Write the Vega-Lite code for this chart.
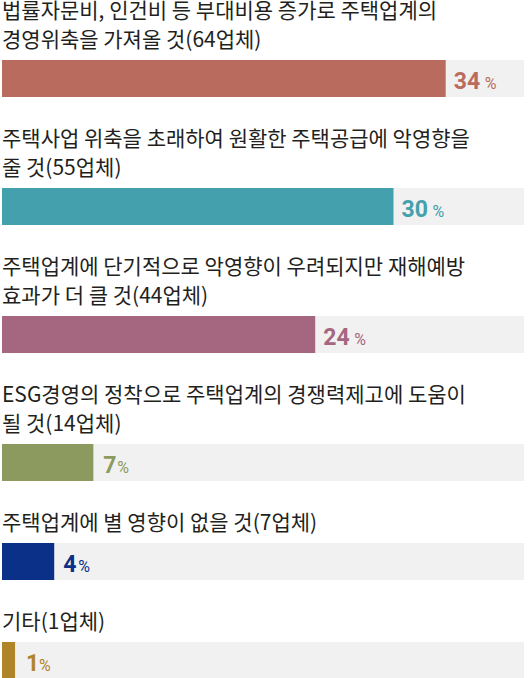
{
  "$schema": "https://vega.github.io/schema/vega-lite/v6.json",
  "padding": {"left": 2, "top": 1, "right": 0, "bottom": 0},
  "data": {
    "values": [
      {"rank": 1, "label": "법률자문비, 인건비 등 부대비용 증가로 주택업계의 경영위축을 가져올 것", "firms": 64, "pct": 34},
      {"rank": 2, "label": "주택사업 위축을 초래하여 원활한 주택공급에 악영향을 줄 것", "firms": 55, "pct": 30},
      {"rank": 3, "label": "주택업계에 단기적으로 악영향이 우려되지만 재해예방 효과가 더 클 것", "firms": 44, "pct": 24},
      {"rank": 4, "label": "ESG경영의 정착으로 주택업계의 경쟁력제고에 도움이 될 것", "firms": 14, "pct": 7},
      {"rank": 5, "label": "주택업계에 별 영향이 없을 것", "firms": 7, "pct": 4},
      {"rank": 6, "label": "기타", "firms": 1, "pct": 1}
    ]
  },
  "config": {
    "view": {"stroke": null},
    "concat": {"spacing": 32},
    "title": {"font": "Noto Sans CJK KR", "fontSize": 21, "fontWeight": "normal", "color": "#231f20", "anchor": "start", "lineHeight": 29, "offset": 9},
    "text": {"font": "Roboto"}
  },
  "vconcat": [
    {
      "title": {"text": ["법률자문비, 인건비 등 부대비용 증가로 주택업계의", "경영위축을 가져올 것(64업체)"]},
      "width": 522, "height": 37,
      "transform": [{"filter": "datum.rank == 1"}],
      "layer": [
        {"mark": {"type": "bar", "color": "#f1f1f1"}, "encoding": {"x": {"datum": 40, "type": "quantitative", "scale": {"domain": [0, 40], "nice": false}, "axis": null}, "x2": {"datum": 0}, "y": {"value": 0}, "y2": {"value": "height"}}},
        {"mark": {"type": "bar", "color": "#b96c5e"}, "encoding": {"x": {"field": "pct", "type": "quantitative"}, "x2": {"datum": 0}, "y": {"value": 0}, "y2": {"value": "height"}}},
        {"mark": {"type": "text", "align": "left", "baseline": "alphabetic", "dx": 8, "dy": 10, "fontSize": 23, "fontWeight": "bold", "color": "#b96c5e"}, "encoding": {"x": {"field": "pct", "type": "quantitative"}, "text": {"field": "pct"}}},
        {"mark": {"type": "text", "align": "left", "baseline": "alphabetic", "dx": 39, "dy": 10, "fontSize": 16, "color": "#b96c5e"}, "encoding": {"x": {"field": "pct", "type": "quantitative"}, "text": {"value": "%"}}}
      ]
    },
    {
      "title": {"text": ["주택사업 위축을 초래하여 원활한 주택공급에 악영향을", "줄 것(55업체)"]},
      "width": 522, "height": 37,
      "transform": [{"filter": "datum.rank == 2"}],
      "layer": [
        {"mark": {"type": "bar", "color": "#f1f1f1"}, "encoding": {"x": {"datum": 40, "type": "quantitative", "scale": {"domain": [0, 40], "nice": false}, "axis": null}, "x2": {"datum": 0}, "y": {"value": 0}, "y2": {"value": "height"}}},
        {"mark": {"type": "bar", "color": "#44a0ad"}, "encoding": {"x": {"field": "pct", "type": "quantitative"}, "x2": {"datum": 0}, "y": {"value": 0}, "y2": {"value": "height"}}},
        {"mark": {"type": "text", "align": "left", "baseline": "alphabetic", "dx": 8, "dy": 10, "fontSize": 23, "fontWeight": "bold", "color": "#44a0ad"}, "encoding": {"x": {"field": "pct", "type": "quantitative"}, "text": {"field": "pct"}}},
        {"mark": {"type": "text", "align": "left", "baseline": "alphabetic", "dx": 39, "dy": 10, "fontSize": 16, "color": "#44a0ad"}, "encoding": {"x": {"field": "pct", "type": "quantitative"}, "text": {"value": "%"}}}
      ]
    },
    {
      "title": {"text": ["주택업계에 단기적으로 악영향이 우려되지만 재해예방", "효과가 더 클 것(44업체)"]},
      "width": 522, "height": 37,
      "transform": [{"filter": "datum.rank == 3"}],
      "layer": [
        {"mark": {"type": "bar", "color": "#f1f1f1"}, "encoding": {"x": {"datum": 40, "type": "quantitative", "scale": {"domain": [0, 40], "nice": false}, "axis": null}, "x2": {"datum": 0}, "y": {"value": 0}, "y2": {"value": "height"}}},
        {"mark": {"type": "bar", "color": "#a5677f"}, "encoding": {"x": {"field": "pct", "type": "quantitative"}, "x2": {"datum": 0}, "y": {"value": 0}, "y2": {"value": "height"}}},
        {"mark": {"type": "text", "align": "left", "baseline": "alphabetic", "dx": 8, "dy": 10, "fontSize": 23, "fontWeight": "bold", "color": "#a5677f"}, "encoding": {"x": {"field": "pct", "type": "quantitative"}, "text": {"field": "pct"}}},
        {"mark": {"type": "text", "align": "left", "baseline": "alphabetic", "dx": 39, "dy": 10, "fontSize": 16, "color": "#a5677f"}, "encoding": {"x": {"field": "pct", "type": "quantitative"}, "text": {"value": "%"}}}
      ]
    },
    {
      "title": {"text": ["ESG경영의 정착으로 주택업계의 경쟁력제고에 도움이", "될 것(14업체)"]},
      "width": 522, "height": 37,
      "transform": [{"filter": "datum.rank == 4"}],
      "layer": [
        {"mark": {"type": "bar", "color": "#f1f1f1"}, "encoding": {"x": {"datum": 40, "type": "quantitative", "scale": {"domain": [0, 40], "nice": false}, "axis": null}, "x2": {"datum": 0}, "y": {"value": 0}, "y2": {"value": "height"}}},
        {"mark": {"type": "bar", "color": "#8c9a60"}, "encoding": {"x": {"field": "pct", "type": "quantitative"}, "x2": {"datum": 0}, "y": {"value": 0}, "y2": {"value": "height"}}},
        {"mark": {"type": "text", "align": "left", "baseline": "alphabetic", "dx": 10, "dy": 10, "fontSize": 23, "fontWeight": "bold", "color": "#8c9a60"}, "encoding": {"x": {"field": "pct", "type": "quantitative"}, "text": {"field": "pct"}}},
        {"mark": {"type": "text", "align": "left", "baseline": "alphabetic", "dx": 24, "dy": 10, "fontSize": 16, "color": "#8c9a60"}, "encoding": {"x": {"field": "pct", "type": "quantitative"}, "text": {"value": "%"}}}
      ]
    },
    {
      "title": {"text": "주택업계에 별 영향이 없을 것(7업체)"},
      "width": 522, "height": 37,
      "transform": [{"filter": "datum.rank == 5"}],
      "layer": [
        {"mark": {"type": "bar", "color": "#f1f1f1"}, "encoding": {"x": {"datum": 40, "type": "quantitative", "scale": {"domain": [0, 40], "nice": false}, "axis": null}, "x2": {"datum": 0}, "y": {"value": 0}, "y2": {"value": "height"}}},
        {"mark": {"type": "bar", "color": "#0b3088"}, "encoding": {"x": {"field": "pct", "type": "quantitative"}, "x2": {"datum": 0}, "y": {"value": 0}, "y2": {"value": "height"}}},
        {"mark": {"type": "text", "align": "left", "baseline": "alphabetic", "dx": 9, "dy": 10, "fontSize": 23, "fontWeight": "bold", "color": "#0b3088"}, "encoding": {"x": {"field": "pct", "type": "quantitative"}, "text": {"field": "pct"}}},
        {"mark": {"type": "text", "align": "left", "baseline": "alphabetic", "dx": 24, "dy": 10, "fontSize": 16, "color": "#0b3088"}, "encoding": {"x": {"field": "pct", "type": "quantitative"}, "text": {"value": "%"}}}
      ]
    },
    {
      "title": {"text": "기타(1업체)"},
      "width": 522, "height": 37,
      "transform": [{"filter": "datum.rank == 6"}],
      "layer": [
        {"mark": {"type": "bar", "color": "#f1f1f1"}, "encoding": {"x": {"datum": 40, "type": "quantitative", "scale": {"domain": [0, 40], "nice": false}, "axis": null}, "x2": {"datum": 0}, "y": {"value": 0}, "y2": {"value": "height"}}},
        {"mark": {"type": "bar", "color": "#b0852a"}, "encoding": {"x": {"field": "pct", "type": "quantitative"}, "x2": {"datum": 0}, "y": {"value": 0}, "y2": {"value": "height"}}},
        {"mark": {"type": "text", "align": "left", "baseline": "alphabetic", "dx": 11, "dy": 10, "fontSize": 23, "fontWeight": "bold", "color": "#b0852a"}, "encoding": {"x": {"field": "pct", "type": "quantitative"}, "text": {"field": "pct"}}},
        {"mark": {"type": "text", "align": "left", "baseline": "alphabetic", "dx": 24, "dy": 10, "fontSize": 16, "color": "#b0852a"}, "encoding": {"x": {"field": "pct", "type": "quantitative"}, "text": {"value": "%"}}}
      ]
    }
  ]
}
